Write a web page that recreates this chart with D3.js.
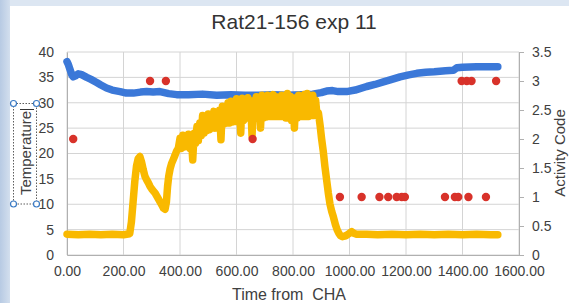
<!DOCTYPE html>
<html>
<head>
<meta charset="utf-8">
<script src="https://cdn.jsdelivr.net/npm/d3@7"></script>
<style>
  html, body { margin: 0; padding: 0; background: #fff; }
  svg { display: block; font-family: "Liberation Sans", Arial, sans-serif; }
</style>
</head>
<body>
<svg id="graph" width="569" height="303"></svg>
<script>
// blue series - temperature (left axis)
var blueT = [0,5,11,17,22,30,40,50,60,70,85,105,120,140,160,188,210,235,260,282,305,329,360,388,430,480,530,580,630,680,730,780,830,870,900,919,940,960,990,1020,1061,1090,1120,1150,1179,1210,1238,1270,1300,1340,1368,1380,1400,1450,1500,1525];
var blueV = [38.1,37.5,36.5,35.5,35.1,35.3,35.7,35.6,35.3,35.0,34.6,34.0,33.5,32.9,32.5,32.2,31.9,31.9,32.1,32.2,32.1,32.2,31.8,31.6,31.6,31.7,31.5,31.6,31.5,31.5,31.6,31.5,31.6,31.7,32.0,32.3,32.4,32.2,32.2,32.5,33.2,33.6,34.1,34.6,35.1,35.5,35.8,36.0,36.1,36.3,36.4,36.9,37.0,37.1,37.1,37.1];

// yellow series (left axis)
var yellowT = [0,40,80,120,160,200,222,228,234,240,246,252,258,264,270,276,282,288,294,300,306,312,318,324,330,336,342,347,352,356,360,365,370,376,382,388,394,
  400,405,410,415,420,425,430,435,440,445,450,455,460,465,470,475,480,485,490,495,500,505,510,515,520,525,530,535,540,545,550,555,560,565,570,575,580,585,590,595,
  600,605,610,615,620,625,630,635,640,645,650,655,660,665,670,675,680,685,690,695,700,705,710,715,720,725,730,735,740,745,750,755,760,765,770,775,780,785,790,795,
  800,805,810,815,820,825,830,835,840,845,850,855,860,865,870,875,880,885,890,896,901,907,913,919,925,931,937,943,950,956,962,968,975,982,990,
  1000,1008,1015,1025,1060,1100,1150,1200,1250,1300,1350,1400,1450,1500,1525];
var yellowV = [4.1,4.0,4.1,4.0,4.1,4.0,4.2,6.5,10.5,14.5,17.5,19.0,19.4,18.3,16.8,15.5,14.8,14.2,13.5,13.0,12.6,12.2,11.6,11.0,10.4,9.8,9.2,9.0,10.5,13.5,15.5,17.0,18.0,18.8,19.6,20.5,21.0,
  23.0,21.0,23.6,21.3,23.2,21.5,23.8,21.0,23.5,18.7,24.0,22.0,25.3,22.5,26.0,23.5,27.5,24.0,26.8,24.5,27.8,24.7,27.3,25.0,28.3,25.0,27.6,25.3,28.5,22.7,29.3,25.8,29.0,26.0,30.0,26.0,30.3,26.2,29.5,26.3,
  30.8,26.5,30.2,24.0,30.9,26.5,30.0,27.0,31.0,27.0,30.4,23.5,30.3,27.0,31.2,27.0,30.8,25.0,31.5,27.0,31.0,27.2,31.5,27.3,31.2,27.3,31.6,27.3,31.2,27.3,30.8,27.3,31.5,27.3,31.2,27.0,31.8,27.0,31.3,26.5,
  31.0,25.0,30.8,27.0,31.5,27.3,31.2,27.3,31.6,27.3,31.8,27.3,31.3,27.5,31.5,27.5,30.5,27.5,28.0,25.5,23.0,20.5,17.4,14.8,12.2,10.0,8.6,7.5,6.0,5.0,4.3,3.8,3.6,3.7,3.9,
  4.3,4.6,4.3,4.1,4.1,4.0,4.1,4.0,4.1,4.0,4.1,4.0,4.1,4.0,4.0];

// activity code (right axis)
var actT = [22,294,350,657,966,1043,1106,1137,1167,1185,1196,1338,1373,1385,1421,1483,1397,1415,1432,1519];
var actV = [2,3,3,2,1,1,1,1,1,1,1,1,1,1,1,1,3,3,3,3];

var xTicks = [0,200,400,600,800,1000,1200,1400,1600];
var leftTicks = [0,5,10,15,20,25,30,35,40];
var rightTicks = [0,0.5,1,1.5,2,2.5,3,3.5];

const w = 569, h = 303;
const padL = 67, padR = 519, padT = 52, padB = 255;

const svg = d3.select('#graph');

// frame background
var grad = svg.append('defs').append('linearGradient').attr('id','lg');
grad.append('stop').attr('offset','0%').attr('stop-color','#b7cae3');
grad.append('stop').attr('offset','100%').attr('stop-color','#d3dfee');
svg.append('rect').attr('width',w).attr('height',h).attr('fill','#dce6f2');
svg.append('rect').attr('width',10).attr('height',h).attr('fill','url(#lg)');
svg.append('rect').attr('x',10).attr('y',6).attr('width',w-10).attr('height',h-6).attr('fill','#fff');

var xScale = d3.scaleLinear().domain([0,1600]).range([padL,padR]);
var yL = d3.scaleLinear().domain([0,40]).range([padB,padT]);
var yR = d3.scaleLinear().domain([0,3.5]).range([padB,padT]);

// gridlines
svg.append('g').selectAll('line').data(leftTicks).join('line')
  .attr('x1',padL).attr('x2',padR).attr('y1',d=>yL(d)).attr('y2',d=>yL(d))
  .attr('stroke','#d4d4d4');
svg.append('g').selectAll('line').data(xTicks).join('line')
  .attr('x1',d=>xScale(d)).attr('x2',d=>xScale(d)).attr('y1',padT).attr('y2',padB)
  .attr('stroke','#d4d4d4');

// axes
const xAxis = d3.axisBottom(xScale).tickValues(xTicks).tickFormat(d3.format('.2f')).tickSize(0).tickPadding(11);
const yAxisL = d3.axisLeft(yL).tickValues(leftTicks).tickSize(0).tickPadding(13);
const yAxisR = d3.axisRight(yR).tickValues(rightTicks).tickFormat(d=>String(d)).tickSizeInner(5).tickSizeOuter(0).tickPadding(8);

function styleAxis(g){
  g.select('.domain').attr('stroke','#b0b0b0');
  g.selectAll('.tick line').attr('stroke','#b0b0b0');
  g.selectAll('text').attr('fill','#404040').style('font-size','14px').style('font-family','"Liberation Sans", Arial, sans-serif');
}
svg.append('g').attr('id','x-axis').attr('transform','translate(0,'+padB+')').call(xAxis).call(styleAxis);
svg.append('g').attr('id','y-axis').attr('transform','translate('+padL+',0)').call(yAxisL).call(styleAxis);
svg.append('g').attr('id','y-axis-r').attr('transform','translate('+padR+',0)').call(yAxisR).call(styleAxis);

// series
var blue = blueT.map((t,i)=>[t,blueV[i]]);
var yellow = yellowT.map((t,i)=>[t,yellowV[i]]);
var line = d3.line().x(d=>xScale(d[0])).y(d=>yL(d[1]));

svg.append('path').datum(blue).attr('d',line)
  .attr('fill','none').attr('stroke','#3b78d8').attr('stroke-width',7.5)
  .attr('stroke-linecap','round').attr('stroke-linejoin','round');
svg.append('path').datum(yellow).attr('d',line)
  .attr('fill','none').attr('stroke','#f9b900').attr('stroke-width',7.5)
  .attr('stroke-linecap','round').attr('stroke-linejoin','round');

svg.append('g').selectAll('circle').data(actT).join('circle')
  .attr('class','cell')
  .attr('cx',d=>xScale(d)).attr('cy',(d,i)=>yR(actV[i])).attr('r',4.2)
  .attr('fill','#d8322a');

// titles
svg.append('text').attr('x',294).attr('y',29).attr('text-anchor','middle')
  .attr('fill','#333').style('font-size','21px').text('Rat21-156 exp 11');
svg.append('text').attr('x',289).attr('y',300).attr('text-anchor','middle')
  .attr('fill','#404040').style('font-size','16px').style('white-space','pre').text('Time from  CHA');
svg.append('text').attr('transform','translate(31,153) rotate(-90)').attr('text-anchor','middle')
  .attr('fill','#404040').style('font-size','15px').text('Temperature');
svg.append('text').attr('transform','translate(565,153) rotate(-90)').attr('text-anchor','middle')
  .attr('fill','#404040').style('font-size','15px').text('Activity Code');

// selection box around the left title
svg.append('rect').attr('x',13.5).attr('y',103.5).attr('width',23).attr('height',100.5)
  .attr('fill','none').attr('stroke','#333').attr('stroke-width',0.8).attr('stroke-dasharray','1.5,1.5');
svg.append('line').attr('x1',20).attr('x2',34).attr('y1',109.5).attr('y2',109.5).attr('stroke','#333').attr('stroke-width',1);
var handles = [[13.5,103.5],[36.5,103.5],[13.5,204],[36.5,204]];
svg.append('g').selectAll('circle').data(handles).join('circle')
  .attr('cx',d=>d[0]).attr('cy',d=>d[1]).attr('r',3)
  .attr('fill','#fff').attr('stroke','#3c7bc4').attr('stroke-width',1.2);
</script>
</body>
</html>
